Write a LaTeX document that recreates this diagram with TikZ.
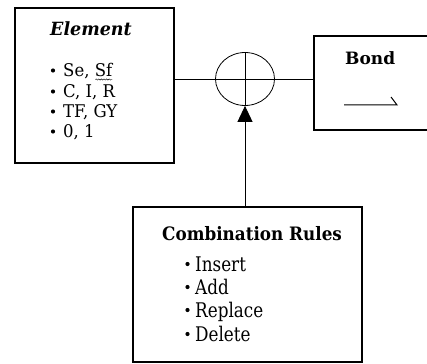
\documentclass[tikz,border=0pt]{standalone}
\usepackage{fontspec}
\usepackage{graphicx}
\setmainfont{DejaVu Serif}
\usetikzlibrary{arrows.meta,shapes.geometric,decorations.pathmorphing}
% stretch a line of text vertically by #1
\newcommand\tallish[2]{\scalebox{1}[#1]{#2}}
\begin{document}
\begin{tikzpicture}[x=1pt,y=-1pt,
  box/.style={draw,rectangle,line width=1.8pt,inner sep=0pt},
  conn/.style={line width=0.9pt},
  ring/.style={draw,ellipse,line width=0.8pt,inner sep=0pt,minimum width=59pt,minimum height=53pt},
  txt/.style={anchor=base west,inner sep=0pt},
  combhead/.style={txt,font=\bfseries\fontsize{16.8}{16.8}\selectfont},
  bondhead/.style={txt,font=\bfseries\fontsize{17}{17}\selectfont},
  elemhead/.style={txt,font=\bfseries\itshape\fontsize{17.5}{17.5}\selectfont},
  elemitem/.style={txt,font=\fontsize{16.5}{16.5}\selectfont},
  ruleitem/.style={txt,font=\fontsize{16.8}{16.8}\selectfont},
  dot/.style={circle,fill,inner sep=0pt,minimum size=4.2pt}]
\useasboundingbox (0,0) rectangle (427,363);
\clip (0,0) rectangle (427,363);

% the three boxes
\node[box,minimum width=159pt,minimum height=155pt] (elem) at (94.5,85.5) {};
\node[box,minimum width=131pt,minimum height=94pt] (bond) at (379.5,83) {};
\node[box,minimum width=229pt,minimum height=155pt] (comb) at (247.5,284.5) {};

% the summing junction
\node[ring] (junc) at (245,79) {};

% Element box contents
\node[elemhead] (elemtitle) at (50,36) {\tallish{1.04}{Element}};
\node[elemitem] (e1) at (63,77) {\tallish{1.06}{Se, Sf}};
\node[elemitem] (e2) at (63,98) {\tallish{1.06}{C, I, R}};
\node[elemitem] (e3) at (63,118) {\tallish{1.06}{TF, GY}};
\node[elemitem] (e4) at (63,138) {\tallish{1.06}{0, 1}};
\foreach \b/\y in {b1/77,b2/98,b3/118,b4/138}
  \node[dot] (\b) at (53,\y-6.5) {};
% spell-check squiggle under "Sf"
\draw[line width=0.45pt,decorate,decoration={snake,amplitude=0.6pt,segment length=2.6pt}]
  ([xshift=-17pt,yshift=-2.5pt]e1.base east) -- ([yshift=-2.5pt]e1.base east);

% Bond box contents
\node[bondhead] (bondtitle) at (345,65) {Bond};
\draw[line width=1pt] (344,105) -- (397,105) -- (391,97);

% Combination Rules box contents
\node[combhead] (combtitle) at (162,240) {\tallish{1.1}{Combination Rules}};
\node[ruleitem] (r1) at (195,271) {\tallish{1.2}{Insert}};
\node[ruleitem] (r2) at (195,294) {\tallish{1.2}{Add}};
\node[ruleitem] (r3) at (195,317) {\tallish{1.2}{Replace}};
\node[ruleitem] (r4) at (195,341) {\tallish{1.2}{Delete}};
\foreach \b/\y in {c1/271,c2/294,c3/317,c4/341}
  \node[dot] (\b) at (187.5,\y-7) {};

% connectors
\draw[conn] (elem.east |- junc.center) -- (bond.west |- junc.center);
\draw[conn] (junc.north) -- (junc.south);
\draw[conn,-{Triangle[length=16pt,width=15pt]}] (junc.center |- comb.north) -- (junc.south);
\end{tikzpicture}
\end{document}
